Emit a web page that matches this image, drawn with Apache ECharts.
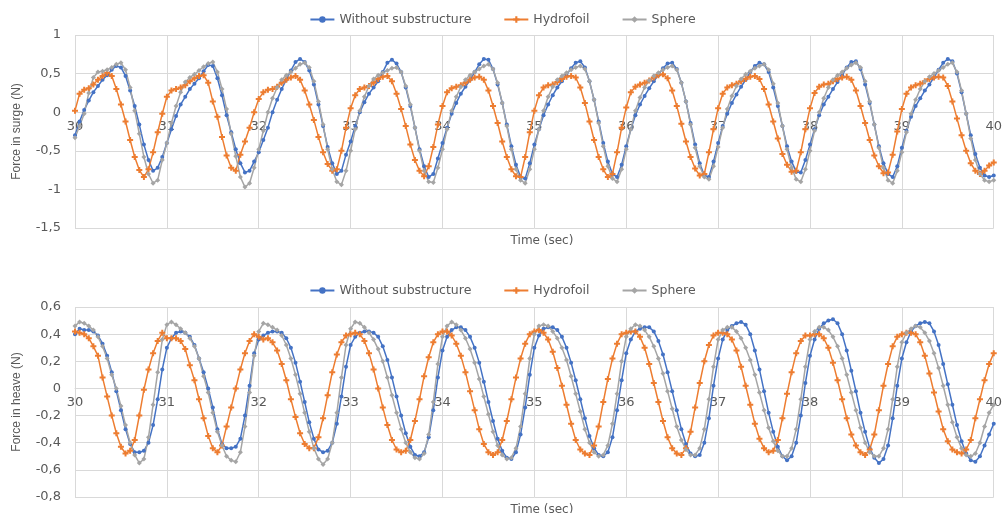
<!DOCTYPE html>
<html>
<head>
<meta charset="utf-8">
<script src="https://cdn.jsdelivr.net/npm/echarts@6/dist/echarts.min.js"></script>
<style>
  html, body { margin: 0; padding: 0; background: #fff; }
  #chart { width: 1005px; height: 513px; }
</style>
</head>
<body>
<div id="chart"></div>
<script>
// sampling of the recorded signals (s)
var sampleStart = 30;
var sampleStep = 0.05;

var seriesNames = ['Without substructure', 'Hydrofoil', 'Sphere'];
var xTicks = [30, 31, 32, 33, 34, 35, 36, 37, 38, 39, 40];

// Force in surge (N)
var surgeWithout = [
  -0.30,-0.12,0.03,0.15,0.26,0.34,0.42,0.48,0.55,0.60,0.58,0.47,0.28,0.08,-0.16,-0.42,-0.62,-0.76,-0.72,-0.58,
  -0.40,-0.22,-0.05,0.10,0.20,0.30,0.37,0.44,0.53,0.61,0.60,0.44,0.22,-0.04,-0.26,-0.48,-0.66,-0.78,-0.76,-0.64,
  -0.52,-0.36,-0.20,0.00,0.16,0.30,0.42,0.54,0.65,0.69,0.65,0.54,0.36,0.10,-0.18,-0.45,-0.66,-0.80,-0.76,-0.55,
  -0.38,-0.18,0.00,0.13,0.24,0.32,0.40,0.52,0.64,0.68,0.63,0.52,0.32,0.08,-0.20,-0.48,-0.70,-0.84,-0.80,-0.60,
  -0.40,-0.20,-0.02,0.12,0.24,0.33,0.42,0.52,0.62,0.69,0.68,0.56,0.36,0.12,-0.16,-0.44,-0.68,-0.84,-0.86,-0.66,
  -0.42,-0.22,-0.04,0.10,0.22,0.32,0.40,0.48,0.57,0.64,0.66,0.58,0.40,0.16,-0.12,-0.40,-0.64,-0.80,-0.84,-0.68,
  -0.44,-0.22,-0.04,0.10,0.21,0.31,0.40,0.48,0.57,0.63,0.64,0.56,0.38,0.14,-0.14,-0.42,-0.66,-0.82,-0.84,-0.64,
  -0.40,-0.18,-0.02,0.12,0.23,0.33,0.42,0.52,0.60,0.64,0.62,0.52,0.32,0.08,-0.18,-0.44,-0.64,-0.77,-0.78,-0.62,
  -0.42,-0.22,-0.04,0.10,0.20,0.30,0.39,0.48,0.58,0.65,0.66,0.56,0.36,0.12,-0.16,-0.44,-0.66,-0.80,-0.84,-0.70,
  -0.46,-0.24,-0.06,0.08,0.18,0.28,0.36,0.45,0.55,0.64,0.69,0.66,0.50,0.26,-0.02,-0.30,-0.54,-0.72,-0.82,-0.84,
  -0.82
];
var surgeHydrofoil = [
  0.02,0.24,0.29,0.31,0.36,0.42,0.47,0.51,0.47,0.30,0.10,-0.12,-0.36,-0.58,-0.75,-0.84,-0.74,-0.52,-0.26,-0.02,
  0.20,0.28,0.30,0.32,0.35,0.40,0.44,0.47,0.48,0.38,0.14,-0.06,-0.32,-0.56,-0.72,-0.76,-0.55,-0.38,-0.20,0.00,
  0.17,0.26,0.29,0.30,0.33,0.38,0.42,0.45,0.47,0.42,0.28,0.10,-0.10,-0.32,-0.52,-0.67,-0.76,-0.74,-0.50,-0.20,
  0.05,0.22,0.30,0.32,0.34,0.38,0.43,0.46,0.47,0.40,0.24,0.04,-0.18,-0.42,-0.62,-0.76,-0.83,-0.70,-0.45,-0.16,
  0.08,0.26,0.31,0.33,0.35,0.38,0.42,0.45,0.46,0.42,0.28,0.08,-0.14,-0.38,-0.58,-0.74,-0.83,-0.84,-0.58,-0.26,
  0.02,0.22,0.32,0.35,0.36,0.39,0.43,0.46,0.47,0.45,0.32,0.12,-0.12,-0.36,-0.58,-0.74,-0.84,-0.80,-0.52,-0.20,
  0.06,0.26,0.33,0.36,0.38,0.41,0.45,0.48,0.49,0.44,0.28,0.08,-0.15,-0.38,-0.58,-0.73,-0.82,-0.80,-0.52,-0.22,
  0.05,0.24,0.32,0.35,0.37,0.40,0.43,0.46,0.47,0.43,0.30,0.10,-0.12,-0.34,-0.54,-0.68,-0.77,-0.76,-0.52,-0.22,
  0.05,0.25,0.33,0.36,0.37,0.40,0.43,0.45,0.46,0.42,0.28,0.08,-0.14,-0.36,-0.56,-0.70,-0.79,-0.78,-0.55,-0.25,
  0.04,0.24,0.32,0.35,0.37,0.40,0.43,0.45,0.46,0.45,0.34,0.14,-0.08,-0.30,-0.50,-0.66,-0.76,-0.80,-0.76,-0.69,
  -0.65
];
var surgeSphere = [
  -0.33,-0.18,-0.02,0.25,0.45,0.52,0.53,0.55,0.58,0.62,0.64,0.55,0.32,0.02,-0.28,-0.58,-0.80,-0.92,-0.88,-0.62,
  -0.40,-0.14,0.08,0.26,0.39,0.45,0.49,0.54,0.59,0.63,0.65,0.52,0.30,0.04,-0.28,-0.57,-0.84,-0.97,-0.92,-0.72,
  -0.48,-0.24,0.00,0.18,0.32,0.42,0.48,0.52,0.57,0.62,0.64,0.58,0.40,0.14,-0.16,-0.48,-0.74,-0.90,-0.94,-0.76,
  -0.50,-0.22,0.02,0.20,0.34,0.43,0.48,0.51,0.54,0.57,0.58,0.52,0.34,0.10,-0.20,-0.50,-0.76,-0.90,-0.91,-0.72,
  -0.48,-0.22,0.02,0.20,0.33,0.42,0.48,0.52,0.56,0.60,0.62,0.56,0.38,0.12,-0.18,-0.48,-0.74,-0.88,-0.92,-0.74,
  -0.48,-0.22,0.02,0.20,0.33,0.42,0.47,0.51,0.55,0.58,0.60,0.56,0.40,0.16,-0.14,-0.44,-0.70,-0.86,-0.90,-0.74,
  -0.48,-0.22,0.02,0.19,0.32,0.41,0.47,0.51,0.55,0.58,0.60,0.55,0.38,0.14,-0.16,-0.46,-0.70,-0.84,-0.87,-0.70,
  -0.45,-0.20,0.04,0.21,0.34,0.43,0.49,0.53,0.57,0.60,0.62,0.55,0.37,0.12,-0.18,-0.48,-0.72,-0.87,-0.90,-0.74,
  -0.50,-0.24,0.00,0.18,0.32,0.42,0.48,0.52,0.57,0.61,0.64,0.58,0.40,0.14,-0.16,-0.46,-0.72,-0.88,-0.92,-0.76,
  -0.52,-0.26,-0.02,0.16,0.30,0.40,0.46,0.50,0.54,0.58,0.62,0.64,0.52,0.28,-0.02,-0.34,-0.62,-0.80,-0.88,-0.90,
  -0.88
];

// Force in heave (N)
var heaveWithout = [
  0.40,0.44,0.43,0.43,0.42,0.39,0.33,0.24,0.12,-0.02,-0.16,-0.30,-0.41,-0.47,-0.47,-0.46,-0.40,-0.27,-0.08,0.14,
  0.30,0.37,0.41,0.42,0.41,0.38,0.32,0.22,0.12,0.00,-0.14,-0.30,-0.41,-0.44,-0.44,-0.43,-0.37,-0.20,0.02,0.26,
  0.36,0.39,0.41,0.42,0.42,0.41,0.37,0.30,0.19,0.05,-0.10,-0.25,-0.37,-0.45,-0.47,-0.46,-0.40,-0.26,-0.06,0.16,
  0.32,0.38,0.41,0.42,0.42,0.41,0.38,0.31,0.21,0.08,-0.06,-0.20,-0.33,-0.43,-0.49,-0.50,-0.47,-0.36,-0.16,0.08,
  0.28,0.38,0.43,0.45,0.45,0.43,0.38,0.30,0.19,0.05,-0.10,-0.24,-0.37,-0.46,-0.51,-0.52,-0.47,-0.34,-0.14,0.10,
  0.30,0.39,0.44,0.45,0.45,0.43,0.38,0.30,0.19,0.06,-0.08,-0.22,-0.35,-0.44,-0.49,-0.50,-0.47,-0.36,-0.16,0.06,
  0.26,0.36,0.42,0.44,0.45,0.45,0.42,0.35,0.25,0.12,-0.02,-0.16,-0.30,-0.41,-0.48,-0.50,-0.49,-0.40,-0.22,0.02,
  0.22,0.36,0.43,0.46,0.48,0.49,0.47,0.40,0.28,0.14,-0.02,-0.18,-0.32,-0.43,-0.50,-0.53,-0.50,-0.40,-0.20,0.04,
  0.24,0.36,0.44,0.48,0.50,0.51,0.48,0.40,0.28,0.13,-0.02,-0.18,-0.32,-0.44,-0.51,-0.55,-0.52,-0.42,-0.22,0.02,
  0.22,0.34,0.42,0.46,0.48,0.49,0.48,0.42,0.32,0.18,0.03,-0.12,-0.27,-0.39,-0.48,-0.53,-0.54,-0.50,-0.42,-0.34,
  -0.26
];
var heaveHydrofoil = [
  0.42,0.41,0.40,0.37,0.31,0.24,0.08,-0.06,-0.20,-0.33,-0.43,-0.48,-0.46,-0.38,-0.20,-0.01,0.14,0.26,0.35,0.41,
  0.37,0.37,0.37,0.35,0.29,0.17,0.06,-0.08,-0.22,-0.35,-0.44,-0.47,-0.42,-0.28,-0.14,0.00,0.14,0.26,0.35,0.40,
  0.38,0.36,0.37,0.34,0.28,0.18,0.06,-0.08,-0.21,-0.33,-0.41,-0.44,-0.44,-0.36,-0.22,-0.05,0.12,0.25,0.34,0.39,
  0.40,0.41,0.40,0.35,0.26,0.14,0.00,-0.14,-0.27,-0.38,-0.45,-0.47,-0.46,-0.38,-0.24,-0.08,0.09,0.23,0.34,0.40,
  0.42,0.42,0.39,0.33,0.24,0.12,-0.02,-0.16,-0.30,-0.41,-0.47,-0.49,-0.47,-0.38,-0.24,-0.08,0.08,0.22,0.33,0.40,
  0.42,0.43,0.41,0.36,0.27,0.15,0.02,-0.12,-0.26,-0.38,-0.45,-0.48,-0.49,-0.42,-0.28,-0.10,0.07,0.22,0.33,0.40,
  0.41,0.42,0.42,0.38,0.30,0.18,0.04,-0.10,-0.24,-0.36,-0.44,-0.48,-0.49,-0.44,-0.32,-0.14,0.04,0.20,0.32,0.39,
  0.41,0.41,0.40,0.36,0.28,0.16,0.02,-0.12,-0.26,-0.37,-0.44,-0.47,-0.46,-0.38,-0.22,-0.04,0.12,0.26,0.35,0.39,
  0.39,0.40,0.40,0.37,0.30,0.19,0.06,-0.08,-0.22,-0.34,-0.42,-0.47,-0.49,-0.45,-0.34,-0.16,0.02,0.18,0.31,0.38,
  0.40,0.41,0.41,0.40,0.34,0.24,0.11,-0.03,-0.17,-0.30,-0.39,-0.45,-0.47,-0.48,-0.45,-0.38,-0.22,-0.08,0.06,0.18,
  0.26
];
var heaveSphere = [
  0.46,0.49,0.48,0.46,0.43,0.38,0.31,0.22,0.10,0.00,-0.13,-0.27,-0.40,-0.49,-0.55,-0.52,-0.36,-0.12,0.12,0.36,
  0.47,0.49,0.47,0.44,0.41,0.37,0.31,0.22,0.09,-0.03,-0.18,-0.32,-0.42,-0.50,-0.53,-0.54,-0.47,-0.28,-0.03,0.24,
  0.42,0.48,0.47,0.45,0.43,0.39,0.32,0.22,0.10,-0.04,-0.18,-0.32,-0.44,-0.52,-0.56,-0.52,-0.40,-0.18,0.08,0.32,
  0.44,0.49,0.48,0.45,0.41,0.36,0.29,0.20,0.08,-0.05,-0.18,-0.30,-0.40,-0.47,-0.51,-0.52,-0.48,-0.34,-0.10,0.18,
  0.38,0.46,0.49,0.47,0.43,0.37,0.29,0.19,0.07,-0.06,-0.19,-0.32,-0.42,-0.49,-0.52,-0.51,-0.44,-0.28,-0.04,0.22,
  0.40,0.46,0.47,0.46,0.42,0.37,0.30,0.21,0.09,-0.04,-0.17,-0.30,-0.40,-0.47,-0.50,-0.49,-0.42,-0.26,-0.04,0.20,
  0.38,0.44,0.47,0.46,0.43,0.38,0.31,0.22,0.11,-0.02,-0.15,-0.28,-0.38,-0.45,-0.49,-0.49,-0.44,-0.30,-0.08,0.16,
  0.36,0.43,0.45,0.45,0.42,0.37,0.30,0.21,0.10,-0.03,-0.16,-0.29,-0.39,-0.46,-0.50,-0.50,-0.44,-0.30,-0.08,0.16,
  0.36,0.42,0.45,0.45,0.43,0.38,0.31,0.22,0.10,-0.03,-0.16,-0.29,-0.40,-0.47,-0.50,-0.50,-0.44,-0.30,-0.08,0.16,
  0.34,0.41,0.44,0.46,0.45,0.41,0.35,0.26,0.15,0.02,-0.12,-0.25,-0.36,-0.44,-0.49,-0.50,-0.48,-0.40,-0.28,-0.18,
  -0.12
];

var colors = ['#4472C4', '#ED7D31', '#A5A5A5'];
var symbols = [
  'circle',
  'path://M2,0H4V2H6V4H4V6H2V4H0V2H2Z',
  'diamond'
];
var symbolSizes = [4, 6, 5];

// plot areas (px)
var grids = [
  { left: 75, right: 5, top: 35, height: 193 },
  { left: 75, right: 5, top: 307, height: 190 }
];
var yRanges = [
  { min: -1.5, max: 1, interval: 0.5, name: 'Force in surge (N)' },
  { min: -0.8, max: 0.6, interval: 0.2, name: 'Force in heave (N)' }
];

function toPairs(values) {
  return values.map(function (v, i) {
    return [Math.round((sampleStart + i * sampleStep) * 100) / 100, v];
  });
}

function comma(v) {
  return String(Math.round(v * 10) / 10).replace('.', ',');
}

var textColor = '#595959';
var gridColor = '#d9d9d9';

// the time axis crosses the force axis at zero (as in Excel)
function xAxisFor(gridIndex) {
  var r = yRanges[gridIndex];
  var zeroOffset = -grids[gridIndex].height * (0 - r.min) / (r.max - r.min);
  return {
    type: 'value',
    gridIndex: gridIndex,
    position: 'bottom',
    offset: zeroOffset,
    min: xTicks[0],
    max: xTicks[xTicks.length - 1],
    interval: 1,
    axisLine: { onZero: false, lineStyle: { color: gridColor } },
    axisTick: { show: false },
    axisLabel: { color: textColor, fontSize: 13, margin: 8, fontFamily: 'DejaVu Sans' },
    splitLine: { show: true, lineStyle: { color: gridColor } }
  };
}

function yAxisFor(gridIndex) {
  var r = yRanges[gridIndex];
  return {
    type: 'value',
    gridIndex: gridIndex,
    min: r.min,
    max: r.max,
    interval: r.interval,
    name: r.name,
    nameLocation: 'middle',
    nameGap: 52,
    nameTextStyle: { color: textColor, fontSize: 12, fontFamily: 'Liberation Sans Narrow, Liberation Sans, sans-serif' },
    axisLine: { show: false },
    axisTick: { show: false },
    axisLabel: { color: textColor, fontSize: 13, margin: 14, fontFamily: 'DejaVu Sans', formatter: comma },
    splitLine: { show: true, lineStyle: { color: gridColor } }
  };
}

function lineSeries(idx, gridIndex, values) {
  return {
    name: seriesNames[idx],
    type: 'line',
    xAxisIndex: gridIndex,
    yAxisIndex: gridIndex,
    data: toPairs(values),
    symbol: symbols[idx],
    symbolSize: symbolSizes[idx],
    showAllSymbol: true,
    lineStyle: { color: colors[idx], width: 1.5 },
    itemStyle: { color: colors[idx] },
    emphasis: { disabled: true },
    animation: false
  };
}

var legendStyle = {
  left: 'center',
  itemWidth: 24,
  itemHeight: 8,
  itemGap: 32,
  textStyle: { color: textColor, fontSize: 12.5, fontFamily: 'DejaVu Sans' },
  data: seriesNames
};

var chart = echarts.init(document.getElementById('chart'));
chart.setOption({
  animation: false,
  color: colors,
  title: [
    { text: 'Time (sec)', left: 537, top: 230, textAlign: 'center',
      textStyle: { color: textColor, fontSize: 12, fontWeight: 'normal', fontFamily: 'DejaVu Sans' } },
    { text: 'Time (sec)', left: 537, top: 499, textAlign: 'center',
      textStyle: { color: textColor, fontSize: 12, fontWeight: 'normal', fontFamily: 'DejaVu Sans' } }
  ],
  legend: [
    Object.assign({ top: 8 }, legendStyle),
    Object.assign({ top: 279 }, legendStyle)
  ],
  grid: grids,
  xAxis: [xAxisFor(0), xAxisFor(1)],
  yAxis: [yAxisFor(0), yAxisFor(1)],
  series: [
    lineSeries(0, 0, surgeWithout),
    lineSeries(1, 0, surgeHydrofoil),
    lineSeries(2, 0, surgeSphere),
    lineSeries(0, 1, heaveWithout),
    lineSeries(1, 1, heaveHydrofoil),
    lineSeries(2, 1, heaveSphere)
  ]
});
</script>
</body>
</html>
